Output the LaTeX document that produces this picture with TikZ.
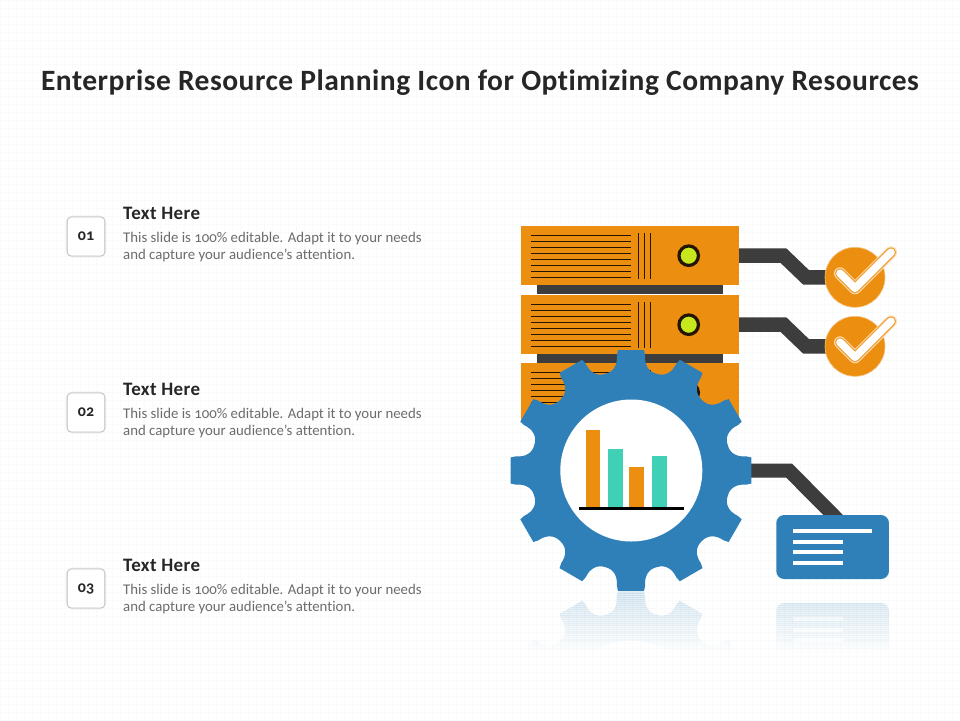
\documentclass[tikz,border=0pt]{standalone}
\usepackage{fontspec}
\setmainfont{Carlito}[Ligatures=NoCommon]
\definecolor{ornge}{HTML}{EC8E0F}
\definecolor{blu}{HTML}{2F80B9}
\definecolor{drk}{HTML}{3D3D3D}
\definecolor{teal2}{HTML}{3FD0B5}
\definecolor{lime2}{HTML}{C8E81E}
\definecolor{ttl}{HTML}{262626}
\definecolor{bodyc}{HTML}{6C6C6C}
\definecolor{gridc}{HTML}{F9FAFA}
\tikzset{
 x=1pt,y=-1pt,
 srv/.style={fill=ornge,inner sep=0pt,minimum width=218pt,minimum height=59.5pt},
 link/.style={draw=drk,line width=14.5pt,line join=miter},
 chk/.style={circle,fill=ornge,draw=ornge!50!white,line width=.6pt,inner sep=0pt,minimum size=60pt},
 numbox/.style={rounded corners=4pt,draw=black!25,fill=white,line width=.7pt,minimum width=37.5pt,minimum height=39pt,inner sep=0pt,font=\fontsize{16}{16}\selectfont\bfseries\addfontfeatures{Numbers=OldStyle},text=ttl},
 numglow/.style={rounded corners=5pt,draw=black!9,line width=2.6pt,minimum width=37.5pt,minimum height=39pt,inner sep=0pt},
 head/.style={anchor=base west,inner sep=0pt,font=\fontsize{19}{19}\selectfont\bfseries\addfontfeatures{LetterSpace=2},text=ttl},
 bodyt/.style={anchor=base west,inner sep=0pt,font=\fontsize{14.8}{15}\selectfont\addfontfeatures{Numbers=OldStyle},text=bodyc},
 bar/.style={fill=#1},
 card/.style={fill=blu,rounded corners=8pt},
}
\newcommand{\gearpath}{
 ({631+121*cos(-6.2)},{470.5+121*sin(-6.2)}) \foreach \a in {0,30,...,330}{
   -- ({631+121*cos(\a-6.2)},{470.5+121*sin(\a-6.2)})
   -- ({631+121*cos(\a+6.2)},{470.5+121*sin(\a+6.2)})
   -- ({631+116*cos(\a+7)},{470.5+116*sin(\a+7)})
   .. controls ({631+106.5*cos(\a+7.2)},{470.5+106.5*sin(\a+7.2)}) and ({631+100*cos(\a+10)},{470.5+100*sin(\a+10)}) .. ({631+100*cos(\a+15)},{470.5+100*sin(\a+15)})
   .. controls ({631+100*cos(\a+20)},{470.5+100*sin(\a+20)}) and ({631+106.5*cos(\a+22.8)},{470.5+106.5*sin(\a+22.8)}) .. ({631+116*cos(\a+23)},{470.5+116*sin(\a+23)})
 } -- cycle
}
\begin{document}
\begin{tikzpicture}
\useasboundingbox (0,0) rectangle (960,720);
\fill[white] (0,0) rectangle (960,720);
\foreach \g in {0,8,...,960} \draw[gridc,line width=.6pt] (\g,0) -- (\g,720);
\foreach \g in {0,8,...,720} \draw[gridc,line width=.6pt] (0,\g) -- (960,\g);
% title
\node[anchor=base,inner sep=0pt,font=\fontsize{29.5}{30}\selectfont\bfseries\addfontfeatures{LetterSpace=1.7},text=ttl] (title) at (480,90) {Enterprise Resource Planning Icon for Optimizing Company Resources};
% left items
\foreach \n/\t/\yy in {01/a/0,02/b/176,03/c/352}{
 \node[numglow] at (86,{236.5+\yy}) {};
 \node[numbox] (box\t) at (86,{236.5+\yy}) {\raisebox{-1.5pt}{\n}};
 \node[head] (h\t) at (123,{219+\yy}) {Text Here};
 \node[bodyt] (l\t) at (123,{242+\yy}) {This slide is 100\% editable. Adapt it to your needs};
 \node[bodyt] (m\t) at (123,{259+\yy}) {and capture your audience's attention.};
}
% reflections
\foreach \s [evaluate=\s as \op using {0.13*(1-\s/60)}, evaluate=\s as \tp using {591+\s}] in {0,2,...,58}{
 \begin{scope}
  \clip (500,\tp) rectangle (900,\tp+2);
  \begin{scope}[y=1pt,shift={(0,-1182pt)}]
   \fill[blu,opacity=\op,even odd rule] \gearpath (631,470.5) circle (71);
   \fill[blu,opacity=\op,even odd rule,rounded corners=8pt] (776.3,515) rectangle (889,579);
   \fill[white,opacity=.5] (793,528.7) rectangle (872,532.7);
   \fill[white,opacity=.5] (793,540) rectangle (843,544);
   \fill[white,opacity=.5] (793,550) rectangle (843,554);
   \fill[white,opacity=.5] (793,561) rectangle (843,565);
  \end{scope}
 \end{scope}
}
% server bars
\fill[drk] (537,285) rectangle (723,294);
\fill[drk] (537,354) rectangle (723,363);
% servers
\foreach \t/\yy in {p/0,q/69,r/137}{
 \node[srv] (srv\t) at (630,{255.7+\yy}) {};
 \foreach \k in {235,241,247,253,259,265.2,271.2,277.3}
  \draw[black!85!ornge,line width=.8pt] (531,{\k+\yy}) -- (631,{\k+\yy});
 \foreach \k in {638.3,644.3,650.3}
  \draw[black!85!ornge,line width=.8pt] (\k,{233+\yy}) -- (\k,{279+\yy});
 \node[circle,fill=lime2,draw=black!85!ornge,line width=3.2pt,inner sep=0pt,minimum size=19.5pt] (led\t) at (688.7,{255.7+\yy}) {};
}
% check circles and connectors
\coordinate (k1) at (783.5,255.7);
\coordinate (k2) at (806,277.3);
\coordinate (k3) at (783.5,324.7);
\coordinate (k4) at (806,346.3);
\node[chk,draw=none,fill=none] (c1) at (855,277.3) {};
\node[chk,draw=none,fill=none] (c2) at (855,346.3) {};
\draw[link] (srvp.east) -- (k1) -- (k2) -- (c1.center);
\draw[link] (srvq.east) -- (k3) -- (k4) -- (c2.center);
\node[chk] at (c1) {};
\node[chk] at (c2) {};
\foreach \c in {c1,c2}{
 \begin{scope}[shift={(\c)}]
  \foreach \w/\cc in {12/ornge!30!white,10/ornge!85!white,7.6/white}
   \draw[\cc,line width=\w pt,line cap=round,line join=round] (-15,-4) -- (0,11) -- (36,-25);
 \end{scope}
}
% gear connector and card
\node[circle,inner sep=0pt,minimum size=142pt] (hub) at (631.3,470.5) {};
\coordinate (k5) at (789,470.5);
\coordinate (k6) at (845,527);
\draw[link,line width=14pt] (hub.east) -- (k5) -- (k6);
% gear
\fill[blu] \gearpath;
\fill[white] (hub.center) circle (71);
\fill[bar=ornge] (586,430) rectangle (600,507);
\fill[bar=teal2] (608,449) rectangle (623,507);
\fill[bar=ornge] (629,467) rectangle (644,507);
\fill[bar=teal2] (652,456) rectangle (667,507);
\fill[black] (579,507) rectangle (684,510);
% card
\node[card,inner sep=0pt,minimum width=112.7pt,minimum height=64pt] (crd) at (832.6,547) {};
\fill[white] (793,528.7) rectangle (872,532.7);
\fill[white] (793,540) rectangle (843,544);
\fill[white] (793,550) rectangle (843,554);
\fill[white] (793,561) rectangle (843,565);
\end{tikzpicture}
\end{document}
